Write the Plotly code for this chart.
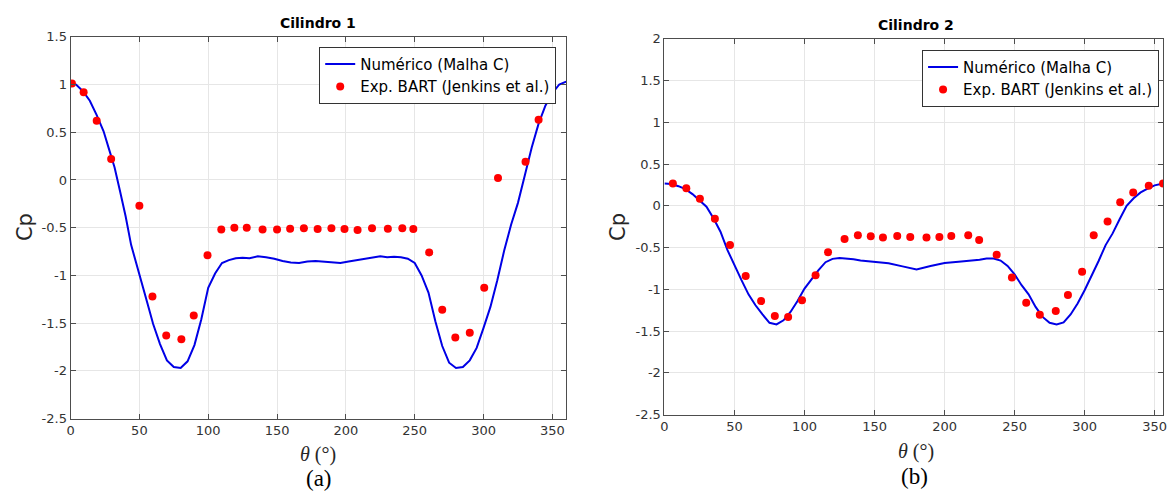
import plotly.graph_objects as go

# ---------------- data ----------------
# Cilindro 1 – numerical (Malha C)
th1_num = [0, 4, 9, 14, 19, 24, 28, 32, 36, 40, 44, 48, 52, 56, 60, 65, 70, 75, 80, 85,
           90, 95, 100, 105, 110, 115, 120, 125, 130, 136, 142, 148, 154, 160, 166, 172,
           178, 184, 190, 196, 202, 208, 214, 220, 225, 230, 235, 240, 245, 250, 255,
           260, 265, 270, 275, 280, 285, 290, 295, 300, 305, 310, 315, 320, 325, 330,
           335, 340, 345, 350, 355, 360]
cp1_num = [1.02, 1.00, 0.93, 0.83, 0.68, 0.51, 0.32, 0.13, -0.12, -0.38, -0.68, -0.88,
           -1.10, -1.30, -1.51, -1.72, -1.89, -1.96, -1.97, -1.90, -1.73, -1.46, -1.13,
           -0.98, -0.87, -0.84, -0.82, -0.815, -0.82, -0.80, -0.81, -0.825, -0.85,
           -0.865, -0.87, -0.855, -0.85, -0.855, -0.865, -0.87, -0.855, -0.84, -0.82,
           -0.805, -0.80, -0.81, -0.805, -0.81, -0.825, -0.87, -1.00, -1.18, -1.48,
           -1.74, -1.915, -1.97, -1.96, -1.89, -1.76, -1.55, -1.33, -1.05, -0.74,
           -0.47, -0.24, 0.05, 0.34, 0.59, 0.78, 0.91, 1.00, 1.03]

# Cilindro 1 – experimental (BART, Jenkins et al.)
th1_exp = [1, 9.5, 19, 29.5, 50, 59.5, 69.5, 80.5, 89.5, 99.5, 109.5, 119, 128, 139.5,
           150, 159.5, 169.5, 179.5, 189.5, 199, 208.5, 219, 230.5, 241, 249, 260.5,
           270, 279.5, 290, 300.5, 310.5, 330.5, 340, 349.5]
cp1_exp = [1.01, 0.92, 0.62, 0.22, -0.27, -1.22, -1.63, -1.67, -1.42, -0.79, -0.52,
           -0.50, -0.50, -0.52, -0.52, -0.51, -0.505, -0.515, -0.505, -0.515, -0.525,
           -0.505, -0.51, -0.505, -0.515, -0.76, -1.36, -1.65, -1.60, -1.13, 0.02,
           0.19, 0.63, 0.92]

# Cilindro 2 – numerical (Malha C)
th2_num = [0, 5, 10, 15, 20, 25, 30, 35, 40, 45, 50, 55, 60, 65, 70, 75, 80, 85, 90, 95,
           100, 105, 110, 115, 120, 125, 130, 135, 140, 145, 150, 160, 170, 180, 190,
           200, 210, 220, 225, 230, 235, 240, 245, 250, 255, 260, 265, 270, 275, 280,
           285, 290, 295, 300, 305, 310, 315, 320, 325, 330, 335, 340, 345, 350, 356]
cp2_num = [0.266, 0.26, 0.235, 0.20, 0.14, 0.07, -0.01, -0.15, -0.31, -0.53, -0.72,
           -0.89, -1.06, -1.19, -1.30, -1.40, -1.42, -1.37, -1.27, -1.14, -0.99, -0.88,
           -0.77, -0.675, -0.635, -0.625, -0.628, -0.64, -0.655, -0.665, -0.67, -0.687,
           -0.725, -0.762, -0.72, -0.685, -0.67, -0.655, -0.645, -0.63, -0.63, -0.655,
           -0.72, -0.82, -0.95, -1.06, -1.21, -1.33, -1.40, -1.42, -1.395, -1.30,
           -1.17, -1.01, -0.84, -0.66, -0.47, -0.33, -0.16, 0.0, 0.09, 0.16, 0.205,
           0.245, 0.266]

# Cilindro 2 – experimental
th2_exp = [6, 15.6, 25.3, 36, 46.8, 58, 69, 78.8, 88.3, 98.2, 107.9, 116.8, 128.6,
           138.1, 147.3, 156, 166.2, 175.5, 187.1, 196.3, 204.8, 216.9, 224.7, 237.2,
           248.1, 258.3, 268, 279.4, 288.1, 298.2, 306.5, 316.4, 325.4, 334.7, 345.8, 356]
cp2_exp = [0.266, 0.21, 0.084, -0.156, -0.47, -0.84, -1.14, -1.32, -1.33, -1.13, -0.83,
           -0.555, -0.396, -0.353, -0.365, -0.38, -0.36, -0.373, -0.38, -0.373, -0.36,
           -0.353, -0.41, -0.587, -0.857, -1.16, -1.305, -1.26, -1.066, -0.79, -0.353,
           -0.187, 0.042, 0.16, 0.24, 0.266]

x_ticks = [0, 50, 100, 150, 200, 250, 300, 350]
y1_ticks = [-2.5, -2, -1.5, -1, -0.5, 0, 0.5, 1, 1.5]
y2_ticks = [-2.5, -2, -1.5, -1, -0.5, 0, 0.5, 1, 1.5, 2]

name_num = "Numérico (Malha C)"
name_exp = "Exp. BART (Jenkins et al.)"
titles = ["Cilindro 1", "Cilindro 2"]
panel_labels = ["(a)", "(b)"]


def fmt(v):
    return ("%g" % v)


W, H = 1173, 500
BLUE = "#0000e6"
RED = "#ff0000"

fig = go.Figure()

fig.add_trace(go.Scatter(x=th1_num, y=cp1_num, mode="lines", name=name_num,
                         line=dict(color=BLUE, width=2), xaxis="x", yaxis="y",
                         legend="legend"))
fig.add_trace(go.Scatter(x=th1_exp, y=cp1_exp, mode="markers", name=name_exp,
                         marker=dict(color=RED, size=8), xaxis="x", yaxis="y",
                         legend="legend"))
fig.add_trace(go.Scatter(x=th2_num, y=cp2_num, mode="lines", name=name_num,
                         line=dict(color=BLUE, width=2), xaxis="x2", yaxis="y2",
                         legend="legend2"))
fig.add_trace(go.Scatter(x=th2_exp, y=cp2_exp, mode="markers", name=name_exp,
                         marker=dict(color=RED, size=8), xaxis="x2", yaxis="y2",
                         legend="legend2"))

axis_common = dict(showline=True, linecolor="#4d4d4d", linewidth=1, mirror="ticks",
                   ticks="inside", ticklen=5, tickcolor="#4d4d4d",
                   showgrid=True, gridcolor="#e6e6e6", gridwidth=1, zeroline=False,
                   tickfont=dict(family="DejaVu Sans", size=13, color="#333333"))

def px_x(p):
    return p / W

def px_y(p):
    return 1 - p / H

leg_font = dict(family="DejaVu Sans", size=15, color="black")

fig.update_layout(
    width=W, height=H, margin=dict(l=0, r=0, t=0, b=0),
    paper_bgcolor="white", plot_bgcolor="white", showlegend=True,
    xaxis=dict(domain=[px_x(67), px_x(566)], range=[0, 360], anchor="y",
               tickvals=x_ticks, ticktext=[fmt(v) for v in x_ticks], **axis_common),
    yaxis=dict(domain=[px_y(424.3), px_y(30.7)], range=[-2.5, 1.5], anchor="x",
               tickvals=y1_ticks, ticktext=[fmt(v) for v in y1_ticks], **axis_common),
    xaxis2=dict(domain=[px_x(665), px_x(1167)], range=[0, 356], anchor="y2",
                tickvals=x_ticks, ticktext=[fmt(v) for v in x_ticks], **axis_common),
    yaxis2=dict(domain=[px_y(420.3), px_y(32.7)], range=[-2.5, 2], anchor="x2",
                tickvals=y2_ticks, ticktext=[fmt(v) for v in y2_ticks], **axis_common),
    legend=dict(x=px_x(556), y=px_y(41), xanchor="right", yanchor="top",
                bgcolor="white", bordercolor="#333333", borderwidth=1,
                font=leg_font, tracegroupgap=0, itemwidth=30),
    legend2=dict(x=px_x(1163), y=px_y(44), xanchor="right", yanchor="top",
                 bgcolor="white", bordercolor="#333333", borderwidth=1,
                 font=leg_font, tracegroupgap=0, itemwidth=30),
)

ann = []
for t, cx, cy in [(titles[0], 316, 17), (titles[1], 918, 19)]:
    ann.append(dict(text="<b>%s</b>" % t, x=px_x(cx), y=px_y(cy), xref="paper", yref="paper",
                    showarrow=False, xanchor="center", yanchor="middle",
                    font=dict(family="DejaVu Sans", size=14, color="black")))
for cx in [21, 618]:
    ann.append(dict(text="Cp", x=px_x(cx), y=px_y(227), xref="paper", yref="paper",
                    showarrow=False, xanchor="center", yanchor="middle", textangle=-90,
                    font=dict(family="DejaVu Sans", size=21, color="#262626")))
for cx, cy in [(316, 461), (918, 458)]:
    ann.append(dict(text="<i>θ</i> (°)", x=px_x(cx), y=px_y(cy), xref="paper", yref="paper",
                    showarrow=False, xanchor="center", yanchor="middle",
                    font=dict(family="Liberation Serif", size=20, color="#262626")))
for t, cx, cy in [(panel_labels[0], 317, 486), (panel_labels[1], 917, 484)]:
    ann.append(dict(text=t, x=px_x(cx), y=px_y(cy), xref="paper", yref="paper",
                    showarrow=False, xanchor="center", yanchor="middle",
                    font=dict(family="Liberation Serif", size=23, color="black")))
fig.update_layout(annotations=ann)

fig.write_html("out.html")
